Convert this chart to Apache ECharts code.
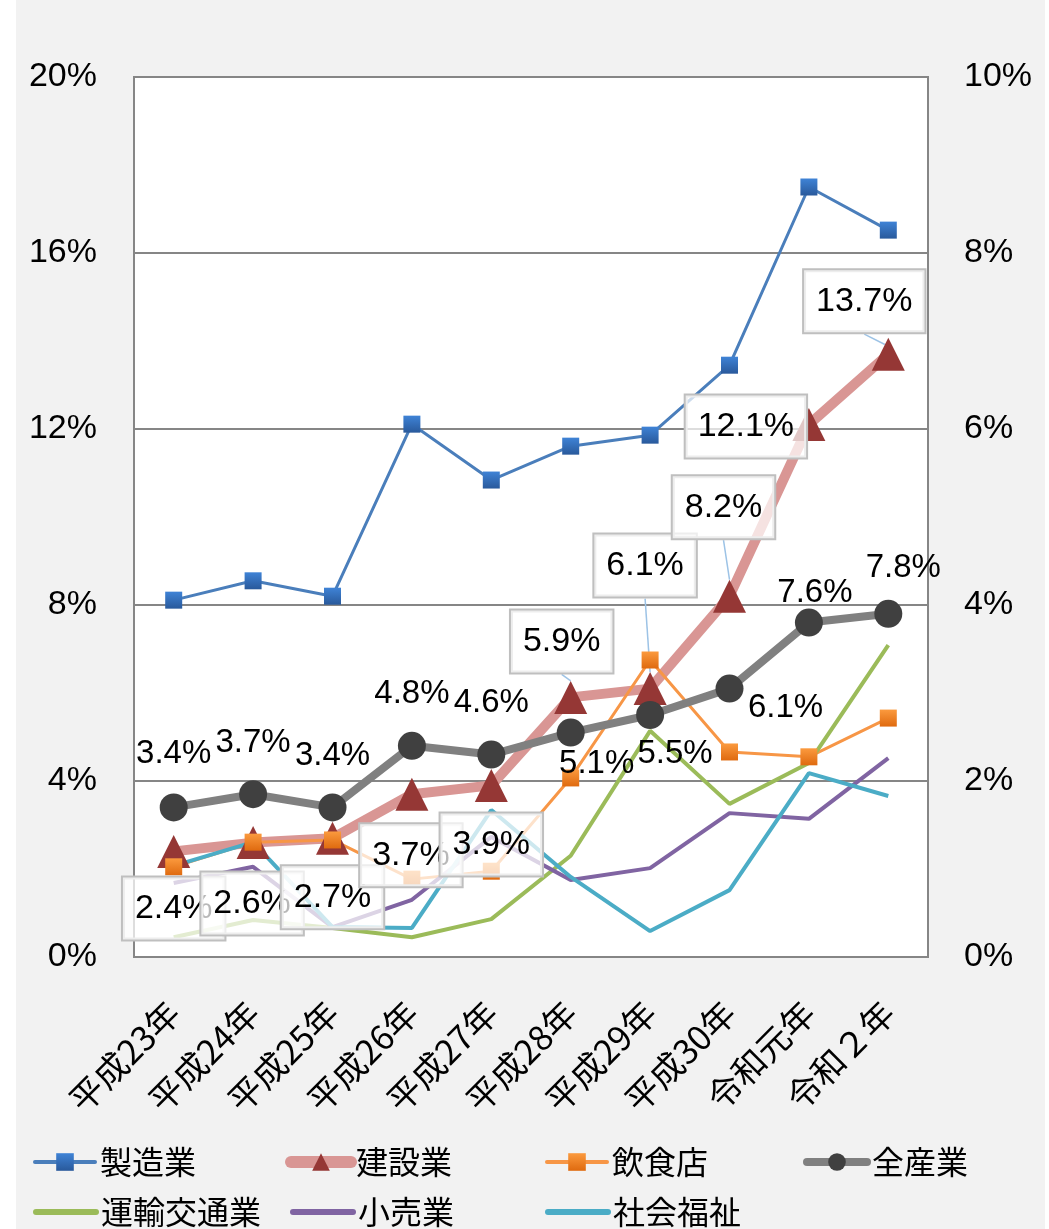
<!DOCTYPE html>
<html><head><meta charset="utf-8">
<script src="https://cdn.jsdelivr.net/npm/echarts@6/dist/echarts.min.js"></script>
<style>html,body{margin:0;padding:0;background:#fff;}#c{position:absolute;left:16px;top:0;width:1029px;height:1229px;}</style>
</head><body><div id="c"></div>
<script>
const categories = ['平成23年','平成24年','平成25年','平成26年','平成27年','平成28年','平成29年','平成30年','令和元年','令和２年'];
const leftTicks = [0, 4, 8, 12, 16, 20];
const rightTicks = [0, 2, 4, 6, 8, 10];
const seizo = [8.11, 8.55, 8.2, 12.11, 10.84, 11.61, 11.86, 13.45, 17.5, 16.52];
const kensetsu = [2.4, 2.6, 2.7, 3.7, 3.9, 5.9, 6.1, 8.2, 12.1, 13.7];
const inshoku = [2.05, 2.61, 2.66, 1.77, 1.95, 4.07, 6.75, 4.66, 4.55, 5.43];
const zensangyo = [3.4, 3.7, 3.4, 4.8, 4.6, 5.1, 5.5, 6.1, 7.6, 7.8];
const unyu = [0.45, 0.84, 0.66, 0.45, 0.86, 2.3, 5.14, 3.48, 4.41, 7.09];
const kouri = [1.68, 2.05, 0.68, 1.3, 2.73, 1.75, 2.02, 3.27, 3.14, 4.52];
const fukushi = [2.07, 2.61, 0.68, 0.66, 3.34, 1.82, 0.59, 1.52, 4.18, 3.66];

// label placement offsets (pixels, relative to the data point)
const kensetsuLabelShift = [[0,57],[-1,61],[0,59],[-1,61],[0,59],[-9,-56],[-5,-123],[-6,-89],[-63,2],[-24,-53]];
const kensetsuLeader = [false,false,false,false,false,true,true,true,false,true];
const zenLabelShift = [[0,-53],[0,-51],[0,-51],[0,-52],[0,-52],[26,31],[25,39],[56,19],[6,-30],[15,-46]];

const pct = v => v.toFixed(1) + '%';
const AX = '#868686';
const numFont = '"Liberation Sans", Arial, sans-serif';
const jpFont = '"Noto Sans CJK JP", sans-serif';

function grad(top, bottom) {
  return new echarts.graphic.LinearGradient(0, 0, 0, 1, [{offset: 0, color: top}, {offset: 1, color: bottom}]);
}

const chart = echarts.init(document.getElementById('c'));
const legendText = {fontSize: 32, fontFamily: jpFont, color: '#000', lineHeight: 36};
function leg(name, left, top, lineWidth, hideSymbol) {
  const o = {data: [name], left: left, top: top, padding: 0, itemWidth: 60, itemHeight: 22, textStyle: legendText,
          selectedMode: false, lineStyle: {width: lineWidth, cap: 'round'}};
  if (hideSymbol) o.itemStyle = {opacity: 0};
  return o;
}

chart.setOption({
  backgroundColor: '#f2f2f2',
  animation: false,
  grid: {left: 118, right: 117, top: 77, bottom: 272, show: true, backgroundColor: '#fff', borderColor: AX, borderWidth: 2},
  legend: [
    leg('製造業', 17, 1144, 4),
    leg('建設業', 269, 1144, 12),
    leg('飲食店', 529, 1144, 4),
    leg('全産業', 787, 1144, 8),
    leg('運輸交通業', 17, 1194, 6, true),
    leg('小売業', 274, 1194, 6, true),
    leg('社会福祉', 529, 1194, 6, true)
  ],
  xAxis: {
    type: 'category', data: categories, boundaryGap: true,
    axisLine: {lineStyle: {color: AX, width: 2}}, axisTick: {show: false},
    axisLabel: {rotate: 45, fontSize: 34, fontFamily: jpFont, color: '#000', margin: 50, interval: 0}
  },
  yAxis: [
    {type: 'value', min: leftTicks[0], max: leftTicks[leftTicks.length - 1], interval: leftTicks[1] - leftTicks[0],
     axisLine: {show: true, lineStyle: {color: AX, width: 2}}, axisTick: {show: false},
     splitLine: {lineStyle: {color: AX, width: 2}},
     axisLabel: {formatter: '{value}%', fontSize: 34, fontFamily: numFont, color: '#000', margin: 37}},
    {type: 'value', position: 'right', min: rightTicks[0], max: rightTicks[rightTicks.length - 1], interval: rightTicks[1] - rightTicks[0],
     axisLine: {show: true, lineStyle: {color: AX, width: 2}}, axisTick: {show: false},
     splitLine: {show: false},
     axisLabel: {formatter: '{value}%', fontSize: 34, fontFamily: numFont, color: '#000', margin: 36}}
  ],
  series: [
    {name: '製造業', type: 'line', data: seizo, symbol: 'rect', symbolSize: 17,
     lineStyle: {color: '#4a7ebb', width: 3}, itemStyle: {color: grad('#3f83d6', '#29599b')}},
    {name: '建設業', type: 'line', data: kensetsu.map((v, i) => ({value: v, labelLine: {show: kensetsuLeader[i]}})),
     symbol: 'triangle', symbolSize: [33, 33],
     lineStyle: {color: '#d99694', width: 10}, itemStyle: {color: '#953735'},
     label: {show: true, position: 'inside', formatter: p => pct(p.value), fontSize: 34, fontFamily: numFont, color: '#000',
       backgroundColor: 'rgba(255,255,255,0.72)', borderColor: '#bfbfbf', borderWidth: 2, padding: [15, 12, 13, 12]},
     labelLine: {show: true, lineStyle: {color: '#9dc3e6', width: 1.5}},
     labelLayout: p => ({dx: kensetsuLabelShift[p.dataIndex][0], dy: kensetsuLabelShift[p.dataIndex][1]})},
    {name: '飲食店', type: 'line', data: inshoku, symbol: 'rect', symbolSize: 17,
     lineStyle: {color: '#f79646', width: 3}, itemStyle: {color: grad('#fb9a3e', '#df6a0f')}},
    {name: '全産業', type: 'line', data: zensangyo, symbol: 'circle', symbolSize: 28,
     lineStyle: {color: '#808080', width: 8}, itemStyle: {color: '#404040'},
     label: {show: true, position: 'inside', formatter: p => pct(p.value), fontSize: 33,
       fontFamily: numFont, color: '#000'},
     labelLayout: p => ({dx: zenLabelShift[p.dataIndex][0], dy: zenLabelShift[p.dataIndex][1]})},
    {name: '運輸交通業', type: 'line', data: unyu, symbol: 'none', lineStyle: {color: '#9bbb59', width: 4}, itemStyle: {color: '#9bbb59'}},
    {name: '小売業', type: 'line', data: kouri, symbol: 'none', lineStyle: {color: '#8064a2', width: 4}, itemStyle: {color: '#8064a2'}},
    {name: '社会福祉', type: 'line', data: fukushi, symbol: 'none', lineStyle: {color: '#4bacc6', width: 4}, itemStyle: {color: '#4bacc6'}}
  ]
});
</script></body></html>
